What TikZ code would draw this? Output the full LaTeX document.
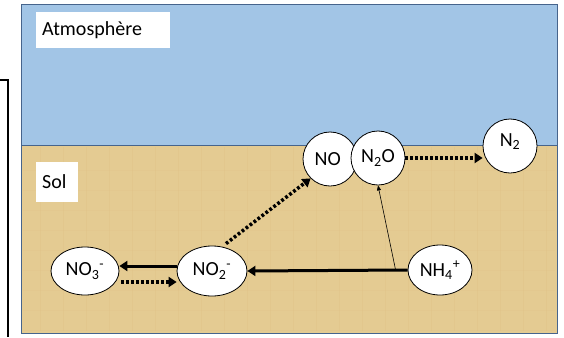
\documentclass[tikz,border=0pt]{standalone}
\usepackage{fontspec}
\setmainfont{Carlito}
\usetikzlibrary{arrows.meta,calc,shapes.geometric}

\definecolor{ciel}{RGB}{162,197,230}
\definecolor{sol}{RGB}{228,203,146}
\definecolor{cadre}{RGB}{70,100,140}

\tikzset{
  espece/.style={draw=black,fill=white,ellipse,inner sep=0pt,line width=0.8pt,font=\fontsize{20}{24}\selectfont},
  etiquette/.style={fill=white,font=\fontsize{20}{24}\selectfont,anchor=west},
  plein/.style={line width=3pt,-{Triangle[length=8pt,width=10pt]}},
  pointille/.style={line width=3.5pt,dash pattern=on 2.8pt off 2.2pt,-{Triangle[length=8pt,width=10pt]}},
  fin/.style={line width=0.6pt,-{Triangle[length=5pt,width=4pt]}}
}

\begin{document}
\begin{tikzpicture}[x=1pt,y=-1pt]
  \useasboundingbox (0,0) rectangle (564,337);
  %CADRE A GAUCHE
  \draw[line width=1.2pt] (0,80) -- (8,80) -- (8,337);
  %ATMOSPHERE ET SOL
  \fill[ciel] (21,4) rectangle (557,145);
  \fill[sol] (21,145) rectangle (557,333);
  \foreach \x in {40,63,...,550}
    \draw[sol!80!brown,opacity=0.25,line width=0.6pt] (\x,147) -- (\x,331);
  \foreach \y in {170,190,...,330}
    \draw[sol!85!brown,opacity=0.2,line width=0.5pt] (23,\y) -- (555,\y);
  \draw[cadre,line width=0.6pt] (21,145) -- (557,145);
  \draw[cadre,line width=0.8pt] (21,4) rectangle (557,333);
  \node[etiquette,minimum width=134pt,minimum height=36pt,inner xsep=6pt,text width=122pt] (atmo) at (36,30) {Atmosphère};
  \node[etiquette,minimum width=42pt,minimum height=40pt,inner xsep=6pt,text width=30pt] (solt) at (36,182) {Sol};
  %ESPECES
  \node[espece,minimum width=68pt,minimum height=48pt] (no3) at (85,271) {NO\textsubscript{3}\textsuperscript{-}};
  \node[espece,minimum width=70pt,minimum height=50pt] (no2) at (212,271) {NO\textsubscript{2}\textsuperscript{-}};
  \node[espece,minimum width=64pt,minimum height=50pt] (nh4) at (440,270) {NH\textsubscript{4}\textsuperscript{+}};
  \node[espece,circle,minimum size=54pt] (no) at (330,159) {NO\phantom{i}};
  \node[espece,circle,minimum size=54pt] (n2o) at (378,158) {N\textsubscript{2}O};
  \node[espece,circle,minimum size=54pt] (n2) at (510,146) {};
  \node[font=\fontsize{20}{24}\selectfont] (n2t) at (510,142) {N\textsubscript{2}};
  %FLECHES
  \coordinate (c1) at ($(nh4.west)+(-12,0)$);
  \draw[plein] (no2.west |- 0,266) -- (no3.east |- 0,266);
  \draw[pointille] ($(no3.east |- 0,282)+(2,0)$) -- ($(no2.west |- 0,282)+(0,0)$);
  \draw[plein] (nh4.west) -- (no2.east);
  \draw[fin] (c1) -- (n2o.south);
  \draw[pointille] ($(no2.north)+(14,-2)$) -- (no.south west);
  \draw[pointille] (n2o.east) -- (n2.west |- n2o.east);
\end{tikzpicture}
\end{document}
